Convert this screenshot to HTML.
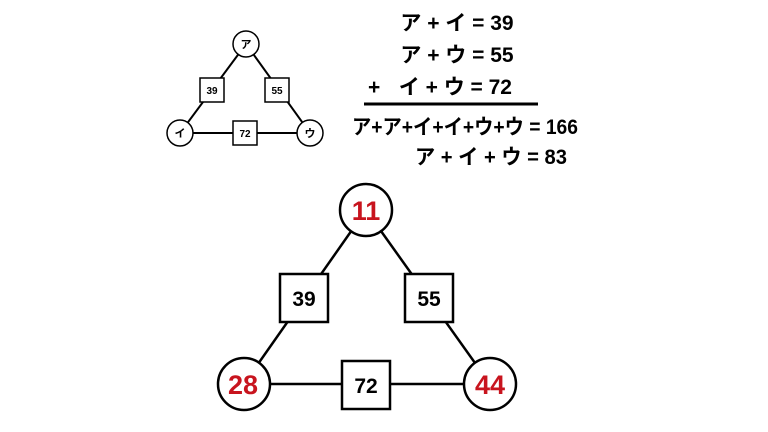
<!DOCTYPE html>
<html><head><meta charset="utf-8"><style>
html,body{margin:0;padding:0;background:#fff;width:768px;height:432px;overflow:hidden}
</style></head><body>
<svg width="768" height="432" viewBox="0 0 768 432" xmlns="http://www.w3.org/2000/svg" font-family="'Liberation Sans','Noto Sans CJK JP',sans-serif" font-weight="bold">
<g stroke="#000" stroke-width="2" fill="none">
<line x1="246" y1="44" x2="180" y2="133"/><line x1="246" y1="44" x2="310" y2="133"/><line x1="180" y1="133" x2="310" y2="133"/>
</g>
<g stroke="#000" stroke-width="1.5" fill="#fff">
<circle cx="246" cy="44" r="13"/><circle cx="180" cy="133" r="13"/><circle cx="310" cy="133" r="13"/>
<rect x="200" y="78" width="24" height="24"/><rect x="265" y="78" width="24" height="24"/><rect x="233" y="121" width="24" height="24"/>
</g>
<g font-size="11" text-anchor="middle" fill="#000">
<text x="246" y="48">ア</text><text x="180" y="137">イ</text><text x="310" y="137">ウ</text>
<text x="212" y="94" font-size="10">39</text><text x="277" y="94" font-size="10">55</text><text x="245" y="137" font-size="10">72</text>
</g>
<g font-size="21" fill="#000">
<text x="457" y="30" text-anchor="middle">ア + イ = 39</text>
<text x="457" y="62" text-anchor="middle">ア + ウ = 55</text>
<text x="368" y="94">+</text><text x="512" y="94" text-anchor="end">イ + ウ = 72</text>
<text x="352" y="134" textLength="226" lengthAdjust="spacingAndGlyphs">ア+ア+イ+イ+ウ+ウ = 166</text>
<text x="415" y="164" textLength="152" lengthAdjust="spacingAndGlyphs">ア + イ + ウ = 83</text>
</g>
<line x1="364" y1="104" x2="538" y2="104" stroke="#000" stroke-width="3"/>
<g stroke="#000" stroke-width="2.5" fill="none">
<line x1="366" y1="210" x2="244" y2="384"/><line x1="366" y1="210" x2="490" y2="384"/><line x1="244" y1="384" x2="490" y2="384"/>
</g>
<g stroke="#000" stroke-width="2.5" fill="#fff">
<circle cx="366" cy="210" r="26"/><circle cx="244" cy="384" r="26"/><circle cx="490" cy="384" r="26"/>
<rect x="280" y="274" width="48" height="48"/><rect x="405" y="274" width="48" height="48"/><rect x="342" y="361" width="48" height="48"/>
</g>
<g font-size="27" fill="#c8141e" text-anchor="middle">
<text x="366" y="220">11</text><text x="243" y="394">28</text><text x="490" y="394">44</text>
</g>
<g font-size="21" fill="#000" text-anchor="middle">
<text x="304" y="306">39</text><text x="429" y="306">55</text><text x="366" y="393">72</text>
</g>
</svg>
</body></html>
